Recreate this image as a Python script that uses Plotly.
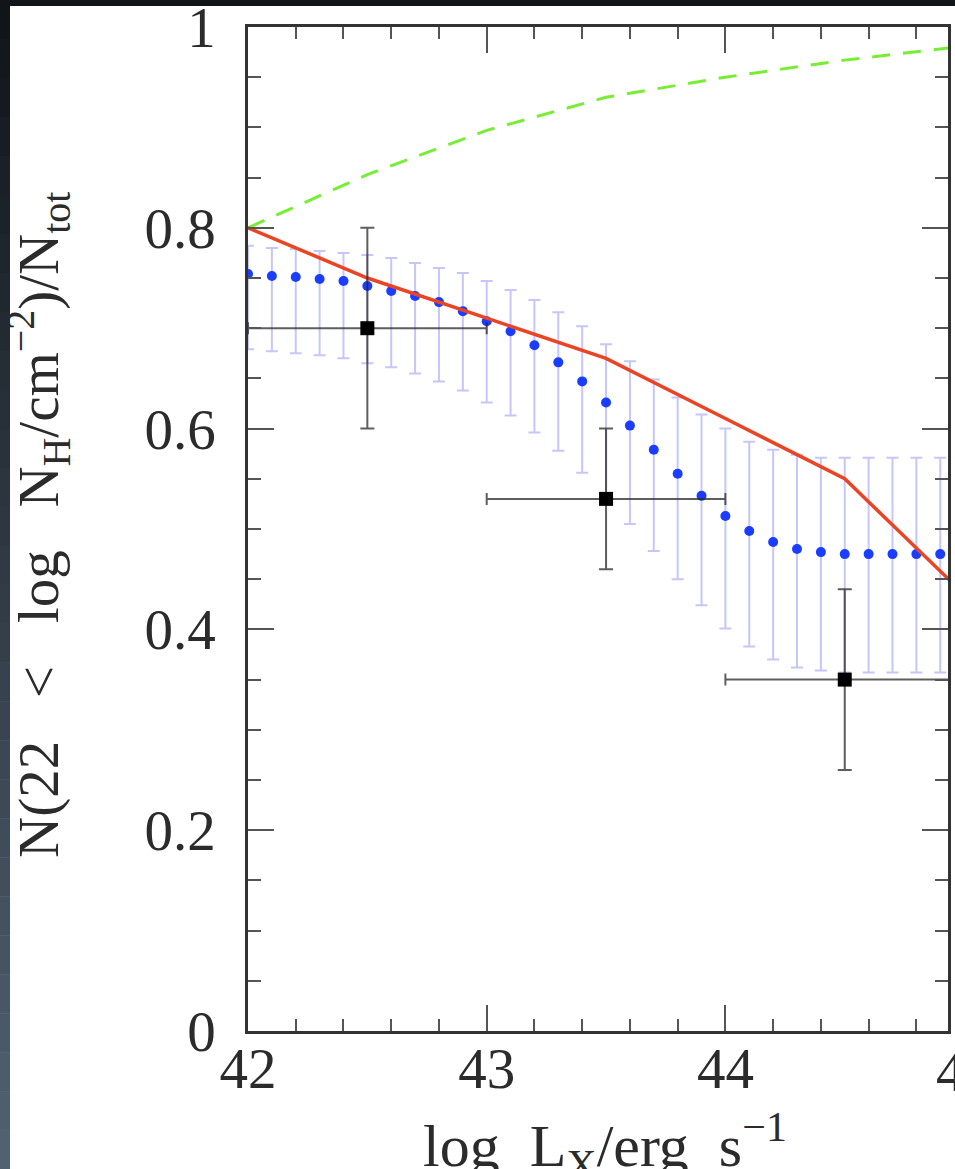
import plotly.graph_objects as go

# ---- data -------------------------------------------------------------
# Observed obscured fraction in three luminosity bins (black squares)
obs_lx = [42.5, 43.5, 44.5]
obs_frac = [0.70, 0.53, 0.35]
obs_bin_half = [0.5, 0.5, 0.5]
obs_err = [0.10, 0.07, 0.09]

# Model fraction sampled every 0.1 dex with its upper / lower envelope (blue)
model_lx = [42.0, 42.1, 42.2, 42.3, 42.4, 42.5, 42.6, 42.7, 42.8, 42.9,
            43.0, 43.1, 43.2, 43.3, 43.4, 43.5, 43.6, 43.7, 43.8, 43.9,
            44.0, 44.1, 44.2, 44.3, 44.4, 44.5, 44.6, 44.7, 44.8, 44.9]
model_frac = [0.754, 0.752, 0.751, 0.749, 0.747, 0.742, 0.737, 0.732, 0.726, 0.717,
              0.707, 0.697, 0.683, 0.666, 0.647, 0.626, 0.603, 0.579, 0.555, 0.533,
              0.513, 0.498, 0.487, 0.480, 0.477, 0.475, 0.475, 0.475, 0.475, 0.475]
model_upper = [0.782, 0.780, 0.779, 0.777, 0.775, 0.773, 0.770, 0.765, 0.760, 0.755,
               0.747, 0.738, 0.728, 0.716, 0.702, 0.684, 0.667, 0.649, 0.631, 0.614,
               0.600, 0.587, 0.579, 0.574, 0.571, 0.571, 0.571, 0.571, 0.571, 0.571]
model_lower = [0.679, 0.677, 0.675, 0.673, 0.670, 0.665, 0.661, 0.655, 0.647, 0.638,
               0.626, 0.613, 0.596, 0.578, 0.556, 0.530, 0.505, 0.478, 0.450, 0.424,
               0.401, 0.383, 0.370, 0.362, 0.359, 0.357, 0.357, 0.357, 0.357, 0.357]

# Piecewise model curves (red solid, green dashed)
curve_lx = [42.0, 42.5, 43.0, 43.5, 44.0, 44.5, 45.0]
red_frac = [0.80, 0.75, 0.71, 0.67, 0.61, 0.55, 0.435]
green_frac = [0.80, 0.853, 0.897, 0.930, 0.950, 0.967, 0.981]

y_ticks = [0, 0.2, 0.4, 0.6, 0.8, 1]
y_tick_text = ["0", "0.2", "0.4", "0.6", "0.8", "1"]
x_ticks = [42, 43, 44]
x_tick_text = ["42", "43", "44"]

# ---- figure -----------------------------------------------------------
W, H = 955, 1169
L, R, T, B = 248, 7, 27, 138
FONT = "Liberation Serif"
INK = "#2b2b2b"
FS = 57

fig = go.Figure()

err_plus = [u - f for u, f in zip(model_upper, model_frac)]
err_minus = [f - l for f, l in zip(model_frac, model_lower)]

fig.add_trace(go.Scatter(
    x=model_lx, y=model_frac, mode="markers",
    marker=dict(color="#1a3dff", size=10),
    error_y=dict(type="data", symmetric=False, array=err_plus, arrayminus=err_minus,
                 color="#c6c6fb", thickness=2, width=6),
    showlegend=False,
))

fig.add_trace(go.Scatter(
    x=curve_lx, y=green_frac, mode="lines",
    line=dict(color="#77ee33", width=3, dash="18px,13px"),
    showlegend=False,
))

fig.add_trace(go.Scatter(
    x=curve_lx, y=red_frac, mode="lines",
    line=dict(color="#ea4425", width=3.5),
    showlegend=False,
))

fig.add_trace(go.Scatter(
    x=obs_lx, y=obs_frac, mode="markers",
    marker=dict(color="black", size=14, symbol="square"),
    error_x=dict(type="data", array=obs_bin_half, color="rgba(40,40,40,0.75)",
                 thickness=2, width=6),
    error_y=dict(type="data", array=obs_err, color="rgba(40,40,40,0.75)",
                 thickness=2, width=7),
    showlegend=False,
))

x_max = 42 + (W - R - L) / 238.7

axis_common = dict(
    showline=True, linecolor="#333333", linewidth=2.5, mirror="ticks",
    ticks="inside", ticklen=26, tickwidth=1.5, tickcolor="#555555",
    showgrid=False, zeroline=False, ticklabeloverflow="allow", automargin=False,
    tickfont=dict(family=FONT, size=FS, color=INK),
)

fig.update_xaxes(
    range=[42, x_max], tickmode="array", tickvals=x_ticks, ticktext=x_tick_text,
    minor=dict(dtick=0.2, tick0=42, ticks="inside", ticklen=12, tickwidth=1.5,
               tickcolor="#555555", showgrid=False),
    ticklabelstandoff=-14,
    **axis_common,
)
fig.update_yaxes(
    range=[0, 1], tickmode="array", tickvals=y_ticks, ticktext=y_tick_text,
    minor=dict(dtick=0.05, tick0=0, ticks="inside", ticklen=13, tickwidth=1.5,
               tickcolor="#555555", showgrid=False),
    ticklabelstandoff=18,
    **axis_common,
)

# dark frame strips along the top and left edges of the page
plot_w = W - L - R
plot_h = H - T - B
def px_x(p):
    return (p - L) / plot_w
def px_y(p):
    return (H - B - p) / plot_h

shapes = [dict(type="rect", xref="paper", yref="paper", layer="above",
               x0=px_x(0), x1=px_x(W), y0=px_y(6), y1=px_y(0),
               fillcolor="#11151a", line=dict(width=0))]
n_seg = 30
top_rgb = (16, 20, 25)
bot_rgb = (82, 98, 114)
for i in range(n_seg):
    t = (i + 0.5) / n_seg
    c = tuple(int(round(a + (b - a) * t)) for a, b in zip(top_rgb, bot_rgb))
    shapes.append(dict(
        type="rect", xref="paper", yref="paper", layer="above",
        x0=px_x(0), x1=px_x(10),
        y0=px_y(H * (i + 1) / n_seg + 0.5), y1=px_y(H * i / n_seg),
        fillcolor="rgb(%d,%d,%d)" % c, line=dict(width=0),
    ))

NB = "\u00a0"
SP2 = NB * 2
SP3 = NB * 3
annotations = [
    # tick label for 45, sitting just past the clipped right edge
    dict(xref="paper", yref="paper", x=px_x(964), y=px_y(1071),
         text="45", showarrow=False, xanchor="center", yanchor="middle",
         font=dict(family=FONT, size=FS, color=INK)),
    dict(xref="paper", yref="paper", x=px_x(605), y=px_y(1146),
         text="log" + SP2 + "L<sub>X</sub>/erg" + SP2 + "s<sup>\u22121</sup>",
         showarrow=False, xanchor="center", yanchor="middle",
         font=dict(family=FONT, size=60, color=INK)),
    dict(xref="paper", yref="paper", x=px_x(38), y=px_y(525),
         text="N(22" + SP3 + "<" + SP3 + "log" + SP3 + "N<sub>H</sub>/cm<sup>\u22122</sup>)/N<sub>tot</sub>",
         showarrow=False, xanchor="center", yanchor="middle", textangle=-90,
         font=dict(family=FONT, size=FS, color=INK)),
]

fig.update_layout(
    width=W, height=H,
    margin=dict(l=L, r=R, t=T, b=B, pad=0),
    paper_bgcolor="white", plot_bgcolor="white",
    shapes=shapes, annotations=annotations,
)

fig.write_html("out.html")
